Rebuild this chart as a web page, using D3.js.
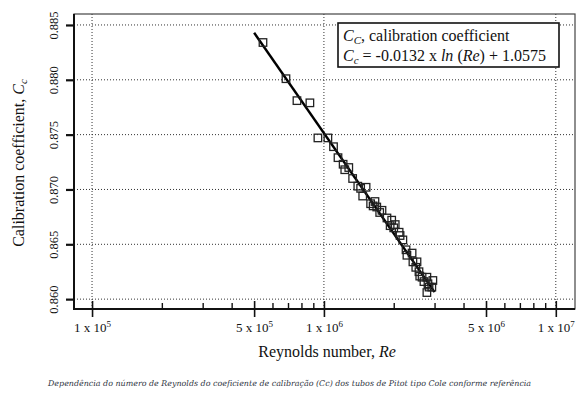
<!DOCTYPE html>
<html>
<head>
<meta charset="utf-8">
<script src="https://cdn.jsdelivr.net/npm/d3@7"></script>
<style>
  body { margin: 0; background: #fff; }
  svg { display: block; }
  .axis path { display: none; }
  .tick text { font-family: "Liberation Serif", "Times New Roman", serif; fill: #111; }
</style>
</head>
<body>
<div id="chart"></div>
<script>
// Reynolds number vs calibration coefficient (Cole pitot tube)

var width = 579,
    height = 397;

var reynolds = [5.46e5, 6.86e5, 7.65e5, 8.70e5, 9.42e5, 1.04e6, 1.10e6, 1.15e6, 1.21e6, 1.23e6,
  1.28e6, 1.33e6, 1.40e6, 1.44e6, 1.52e6, 1.47e6, 1.59e6, 1.66e6, 1.63e6, 1.69e6,
  1.78e6, 1.74e6, 1.87e6, 1.96e6, 1.93e6, 2.03e6, 2.00e6, 2.11e6, 2.13e6, 2.19e6,
  2.26e6, 2.28e6, 2.40e6, 2.42e6, 2.52e6, 2.49e6, 2.57e6, 2.59e6, 2.65e6, 2.78e6,
  2.70e6, 2.81e6, 2.95e6, 2.92e6, 2.78e6, 2.84e6];
var coefficient = [0.8834, 0.8801, 0.8781, 0.8779, 0.8747, 0.8747, 0.8739, 0.8729, 0.8723, 0.8718,
  0.8720, 0.8710, 0.8703, 0.8701, 0.8702, 0.8694, 0.8687, 0.8689, 0.8685, 0.8684,
  0.8681, 0.8679, 0.8674, 0.8672, 0.8667, 0.8668, 0.8665, 0.8661, 0.8658, 0.8654,
  0.8645, 0.8640, 0.8642, 0.8634, 0.8634, 0.8629, 0.8625, 0.8621, 0.8620, 0.8620,
  0.8616, 0.8614, 0.8617, 0.8611, 0.8606, 0.8611];

// fit: Cc = -0.0132 ln(Re) + 1.0575
var fitSlope = -0.0132,
    fitIntercept = 1.0575,
    fitRange = [5e5, 3e6];

var yTicks = [0.860, 0.865, 0.870, 0.875, 0.880, 0.885];
var xMajor = [1e5, 5e5, 1e6, 5e6, 1e7];
var xMinor = [2e5, 3e5, 4e5, 6e5, 7e5, 8e5, 9e5, 2e6, 3e6, 4e6, 6e6, 7e6, 8e6, 9e6];
var xGrid = [1e5, 1e6, 1e7];

var caption = "Dependência do número de Reynolds do coeficiente de calibração (Cc) dos tubos de Pitot tipo Cole conforme referência";

var pLeft = 74, pRight = 575, pTop = 14, pBottom = 309;

var x = d3.scaleLog()
    .domain([83600, 1.21e7])
    .range([pLeft, pRight]);

var y = d3.scaleLinear()
    .domain([0.8591, 0.8860])
    .range([pBottom, pTop]);

var svg = d3.select("#chart").append("svg")
    .attr("width", width)
    .attr("height", height);

// dotted grid
svg.append("g").selectAll("line")
  .data(yTicks)
  .enter().append("line")
  .attr("x1", pLeft).attr("x2", pRight)
  .attr("y1", function(d) { return y(d); })
  .attr("y2", function(d) { return y(d); })
  .style("stroke", "#333")
  .style("stroke-width", 1)
  .style("stroke-dasharray", "1,2");

svg.append("g").selectAll("line")
  .data(xGrid)
  .enter().append("line")
  .attr("y1", pTop).attr("y2", pBottom)
  .attr("x1", function(d) { return x(d); })
  .attr("x2", function(d) { return x(d); })
  .style("stroke", "#333")
  .style("stroke-width", 1)
  .style("stroke-dasharray", "1,2");

// frame
svg.append("rect")
  .attr("x", pLeft).attr("y", pTop)
  .attr("width", pRight - pLeft).attr("height", pBottom - pTop)
  .attr("fill", "none")
  .style("stroke", "#444")
  .style("stroke-width", 1.2);
svg.append("line")
  .attr("x1", pLeft).attr("x2", pLeft).attr("y1", pTop).attr("y2", pBottom)
  .style("stroke", "#111").style("stroke-width", 2);
svg.append("line")
  .attr("x1", pLeft - 1).attr("x2", pRight).attr("y1", pBottom).attr("y2", pBottom)
  .style("stroke", "#111").style("stroke-width", 2);

// y axis
var yAxis = svg.append("g")
  .attr("class", "axis")
  .attr("transform", "translate(" + pLeft + ",0)")
  .call(d3.axisLeft(y).tickValues(yTicks).tickSize(8).tickFormat(d3.format(".3f")));
yAxis.selectAll(".tick line").style("stroke", "#111").style("stroke-width", 2.2);
yAxis.selectAll(".tick text")
  .attr("x", null).attr("dy", null)
  .attr("text-anchor", "middle")
  .attr("transform", "translate(-16,0) rotate(-90)")
  .style("font-size", "12.5px");

// x axis, major ticks cross the axis line
var xAxis = svg.append("g")
  .attr("class", "axis")
  .attr("transform", "translate(0," + pBottom + ")")
  .call(d3.axisBottom(x).tickValues(xMajor).tickSize(8).tickFormat(""));
xAxis.selectAll(".tick line").style("stroke", "#111").style("stroke-width", 1.6);

var xInner = svg.append("g")
  .attr("class", "axis")
  .attr("transform", "translate(0," + pBottom + ")")
  .call(d3.axisBottom(x).tickValues(xMajor).tickSize(-8).tickFormat(""));
xInner.selectAll(".tick line").style("stroke", "#111").style("stroke-width", 1.6);

var xMinorAxis = svg.append("g")
  .attr("class", "axis")
  .attr("transform", "translate(0," + pBottom + ")")
  .call(d3.axisBottom(x).tickValues(xMinor).tickSize(-6).tickFormat(""));
xMinorAxis.selectAll(".tick line").style("stroke", "#111").style("stroke-width", 1.4);

// x labels "m x 10^n"
xAxis.selectAll(".tick").each(function(d) {
  var e = Math.floor(Math.log10(d) + 1e-9);
  var m = Math.round(d / Math.pow(10, e));
  var t = d3.select(this).select("text")
    .attr("y", 23).attr("dy", null)
    .attr("text-anchor", "middle")
    .style("font-size", "13px");
  t.append("tspan").text(m + " x 10");
  t.append("tspan").attr("dy", -5).style("font-size", "9px").text(e);
});

// fit line
var fitLine = d3.line()
  .x(function(d) { return x(d); })
  .y(function(d) { return y(fitSlope * Math.log(d) + fitIntercept); });
svg.append("path")
  .datum(fitRange)
  .attr("d", fitLine)
  .attr("fill", "none")
  .style("stroke", "#000")
  .style("stroke-width", 2.4);

// square markers
var s = 7.5;
svg.append("g").selectAll("rect")
  .data(reynolds)
  .enter().append("rect")
  .attr("x", function(d) { return x(d) - s / 2; })
  .attr("y", function(d, i) { return y(coefficient[i]) - s / 2; })
  .attr("width", s).attr("height", s)
  .attr("fill", "none")
  .style("stroke", "#222")
  .style("stroke-width", 1.3);

// legend box
var serif = "'Liberation Serif', 'Times New Roman', serif";
svg.append("rect")
  .attr("x", 338).attr("y", 23)
  .attr("width", 221).attr("height", 44)
  .attr("fill", "#fff")
  .style("stroke", "#111")
  .style("stroke-width", 1.6);

var l1 = svg.append("text")
  .attr("x", 343).attr("y", 41)
  .style("font-family", serif).style("font-size", "16px").style("fill", "#111");
l1.append("tspan").style("font-style", "italic").text("C");
l1.append("tspan").style("font-style", "italic").style("font-size", "11px").attr("dy", 3).text("C");
l1.append("tspan").attr("dy", -3).text(", calibration coefficient");

var l2 = svg.append("text")
  .attr("x", 343).attr("y", 61)
  .style("font-family", serif).style("font-size", "16px").style("fill", "#111");
l2.append("tspan").style("font-style", "italic").text("C");
l2.append("tspan").style("font-style", "italic").style("font-size", "11px").attr("dy", 3).text("c");
l2.append("tspan").attr("dy", -3).text(" = -0.0132 x ");
l2.append("tspan").style("font-style", "italic").text("ln");
l2.append("tspan").text(" (");
l2.append("tspan").style("font-style", "italic").text("Re");
l2.append("tspan").text(") + 1.0575");

// axis titles
var xt = svg.append("text")
  .attr("x", 327).attr("y", 357)
  .attr("text-anchor", "middle")
  .style("font-family", serif).style("font-size", "16px").style("fill", "#111");
xt.append("tspan").text("Reynolds number, ");
xt.append("tspan").style("font-style", "italic").text("Re");

var yt = svg.append("text")
  .attr("transform", "translate(24,163) rotate(-90)")
  .attr("text-anchor", "middle")
  .style("font-family", serif).style("font-size", "16px").style("fill", "#111");
yt.append("tspan").text("Calibration coefficient, ");
yt.append("tspan").style("font-style", "italic").text("C");
yt.append("tspan").style("font-style", "italic").style("font-size", "11px").attr("dy", 3).text("c");

// caption
svg.append("text")
  .attr("x", 48).attr("y", 386)
  .style("font-family", "'DejaVu Serif', serif")
  .style("font-style", "italic")
  .style("font-size", "7.95px")
  .style("fill", "#2f3542")
  .text(caption);
</script>
</body>
</html>
